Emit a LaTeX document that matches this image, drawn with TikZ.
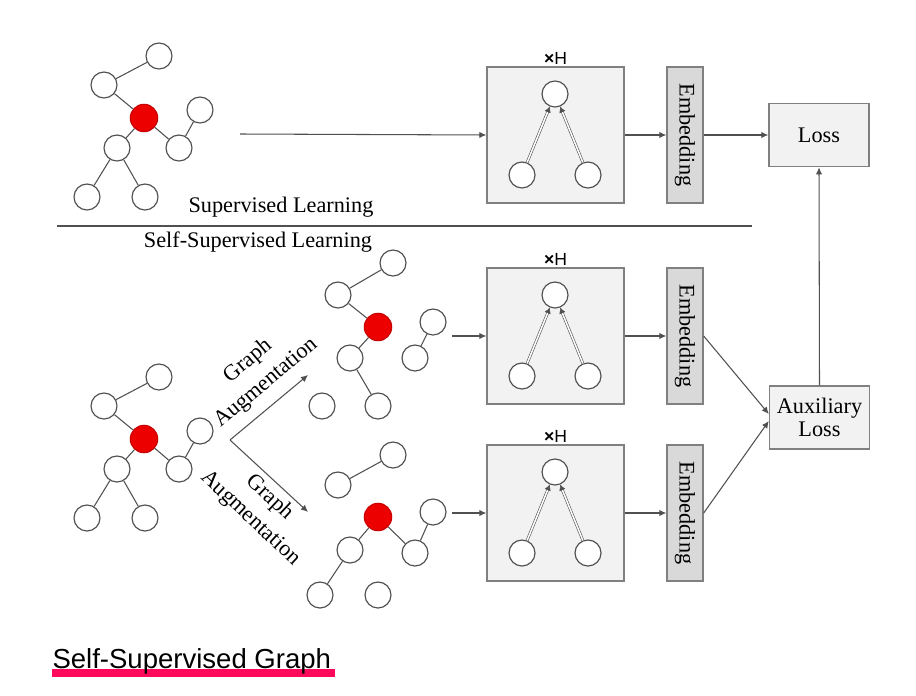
\documentclass[tikz,border=0pt]{standalone}
\usepackage{fontspec}
\setmainfont{Liberation Serif}
\newfontfamily\capfont{Liberation Sans}
\usetikzlibrary{arrows.meta}
\usetikzlibrary{positioning}
\definecolor{linegray}{RGB}{80,80,80}
\definecolor{framegray}{RGB}{128,128,128}
\definecolor{boxgray}{RGB}{242,242,242}
\definecolor{embgray}{RGB}{217,217,217}
\definecolor{nodered}{RGB}{236,0,0}
\definecolor{markpink}{RGB}{255,10,90}

\begin{document}
\begin{tikzpicture}[x=0.03cm,y=-0.03cm,->,>={Latex[length=6pt,width=5.5pt]},line width=0.9pt,draw=linegray,
    font=\fontsize{19}{22}\selectfont,
    graph node/.style={circle,draw=linegray,fill=white,line width=1pt,minimum size=0.78cm,inner sep=0pt},
    red node/.style={graph node,fill=nodered,draw=nodered!85!black,minimum size=0.82cm},
    gnn box/.style={rectangle,draw=framegray,fill=boxgray,line width=1.2pt,minimum width=4.11cm,minimum height=4.08cm},
    emb box/.style={rectangle,draw=framegray,fill=embgray,line width=1.2pt,minimum width=1.08cm,minimum height=4.08cm},
    loss box/.style={rectangle,draw=framegray,fill=boxgray,line width=1.2pt,minimum width=3cm,minimum height=1.9cm,align=center},
    head label/.style={font=\capfont\fontsize{15}{17}\selectfont,inner sep=1.5pt},
    msg line/.style={double,double distance=1.3pt,line width=0.5pt,-{Latex[length=5pt,width=5.5pt]}},
    aug label/.style={align=center,font=\fontsize{19}{24}\selectfont}]
  \useasboundingbox[fill=white] (0,0) rectangle (916,696);

  % supervised branch
  \node[graph node] (ta) at (159,56) {};
  \node[graph node] (tb) at (104,85) {};
  \node[red node] (tr) at (144,118) {};
  \node[graph node] (tc) at (200,110) {};
  \node[graph node] (td) at (179,148) {};
  \node[graph node] (te) at (117,148) {};
  \node[graph node] (tf) at (87,197) {};
  \node[graph node] (tg) at (145,197) {};
  \path[-] (ta) edge (tb);
  \path[-] (tb) edge (tr);
  \path[-] (tr) edge (te);
  \path[-] (tr) edge (td);
  \path[-] (td) edge (tc);
  \path[-] (te) edge (tf);
  \path[-] (te) edge (tg);

  \node[gnn box] (g1) at (555.5,135) {};
  \node[head label,above=0pt of g1] (h1) {\textbf{×}H};
  \node[graph node] (g1t) at (555,94) {};
  \node[graph node] (g1l) at (522,175) {};
  \node[graph node] (g1r) at (588,175) {};
  \draw[msg line] (g1l) -- (g1t);
  \draw[msg line] (g1r) -- (g1t);
  \node[emb box] (e1) at (685,135) {\rotatebox{-90}{Embedding}};
  \node[loss box] (loss) at (819,135) {Loss};
  \coordinate (sup) at (240,134);
  \draw (sup) -- (g1.west);
  \draw (g1.east) -- (e1.west);
  \draw (e1.east) -- (loss.west);

  % separator
  \node (suplab) at (281,207) {Supervised Learning};
  \draw[-,line width=2pt] (57,226) -- (752,226);
  \node (ssllab) at (258,242) {Self-Supervised Learning};

  % self-supervised branch: source graph
  \node[graph node] (sa) at (159,377) {};
  \node[graph node] (sb) at (104,406) {};
  \node[red node] (sr) at (144,439) {};
  \node[graph node] (sc) at (200,431) {};
  \node[graph node] (sd) at (179,469) {};
  \node[graph node] (se) at (117,469) {};
  \node[graph node] (sf) at (87,518) {};
  \node[graph node] (sg) at (145,518) {};
  \path[-] (sa) edge (sb);
  \path[-] (sb) edge (sr);
  \path[-] (sr) edge (se);
  \path[-] (sr) edge (sd);
  \path[-] (sd) edge (sc);
  \path[-] (se) edge (sf);
  \path[-] (se) edge (sg);

  \coordinate (split) at (230,440);
  \coordinate (augup) at (308,375);
  \coordinate (augdn) at (308,512);
  \draw (split) -- (augup);
  \draw (split) -- (augdn);
  \node[aug label,rotate=40] (auglab1) at (257,372) {Graph\\Augmentation};
  \node[aug label,rotate=-43] (auglab2) at (260,508) {Graph\\Augmentation};

  % first view
  \node[graph node] (ua) at (393,263) {};
  \node[graph node] (ub) at (338,295) {};
  \node[red node] (ur) at (378,327) {};
  \node[graph node] (uc) at (433,322) {};
  \node[graph node] (ud) at (415,358) {};
  \node[graph node] (ue) at (350,358) {};
  \node[graph node] (uf) at (322,406) {};
  \node[graph node] (ug) at (378,406) {};
  \path[-] (ua) edge (ub);
  \path[-] (ub) edge (ur);
  \path[-] (ur) edge (ue);
  \path[-] (ue) edge (ug);
  \path[-] (uc) edge (ud);

  % second view
  \node[graph node] (la) at (393,455) {};
  \node[graph node] (lb) at (338,485) {};
  \node[red node] (lr) at (378,517) {};
  \node[graph node] (lc) at (433,512) {};
  \node[graph node] (ld) at (415,553) {};
  \node[graph node] (le) at (350,550) {};
  \node[graph node] (lf) at (320,595) {};
  \node[graph node] (lg) at (378,595) {};
  \path[-] (la) edge (lb);
  \path[-] (lr) edge (le);
  \path[-] (lr) edge (ld);
  \path[-] (ld) edge (lc);
  \path[-] (le) edge (lf);

  \node[gnn box] (g2) at (555.5,336) {};
  \node[head label,above=0pt of g2] (h2) {\textbf{×}H};
  \node[graph node] (g2t) at (555,295) {};
  \node[graph node] (g2l) at (522,376) {};
  \node[graph node] (g2r) at (588,376) {};
  \draw[msg line] (g2l) -- (g2t);
  \draw[msg line] (g2r) -- (g2t);

  \node[gnn box] (g3) at (555.5,513) {};
  \node[head label,above=0pt of g3] (h3) {\textbf{×}H};
  \node[graph node] (g3t) at (555,472) {};
  \node[graph node] (g3l) at (522,553) {};
  \node[graph node] (g3r) at (588,553) {};
  \draw[msg line] (g3l) -- (g3t);
  \draw[msg line] (g3r) -- (g3t);

  \node[emb box] (e2) at (685,336) {\rotatebox{-90}{Embedding}};
  \node[emb box] (e3) at (685,513) {\rotatebox{-90}{Embedding}};
  \node[loss box] (aux) at (819.5,417.5) {Auxiliary\\[-2pt]Loss};

  \coordinate (v1) at (452,336);
  \coordinate (v2) at (452,513);
  \draw (v1) -- (g2.west);
  \draw (v2) -- (g3.west);
  \draw (g2.east) -- (e2.west);
  \draw (g3.east) -- (e3.west);
  \draw (e2.east) -- ([yshift=3pt]aux.west);
  \draw (e3.east) -- ([yshift=-3pt]aux.west);
  \draw (aux.north) -- (loss.south);

  % caption
  \fill[markpink] (52,669) rectangle (335,677);
  \node[font=\capfont\fontsize{23.5}{26}\selectfont,anchor=base west,inner sep=0pt] (cap) at (52,668) {Self-Supervised Graph};
\end{tikzpicture}
\end{document}
